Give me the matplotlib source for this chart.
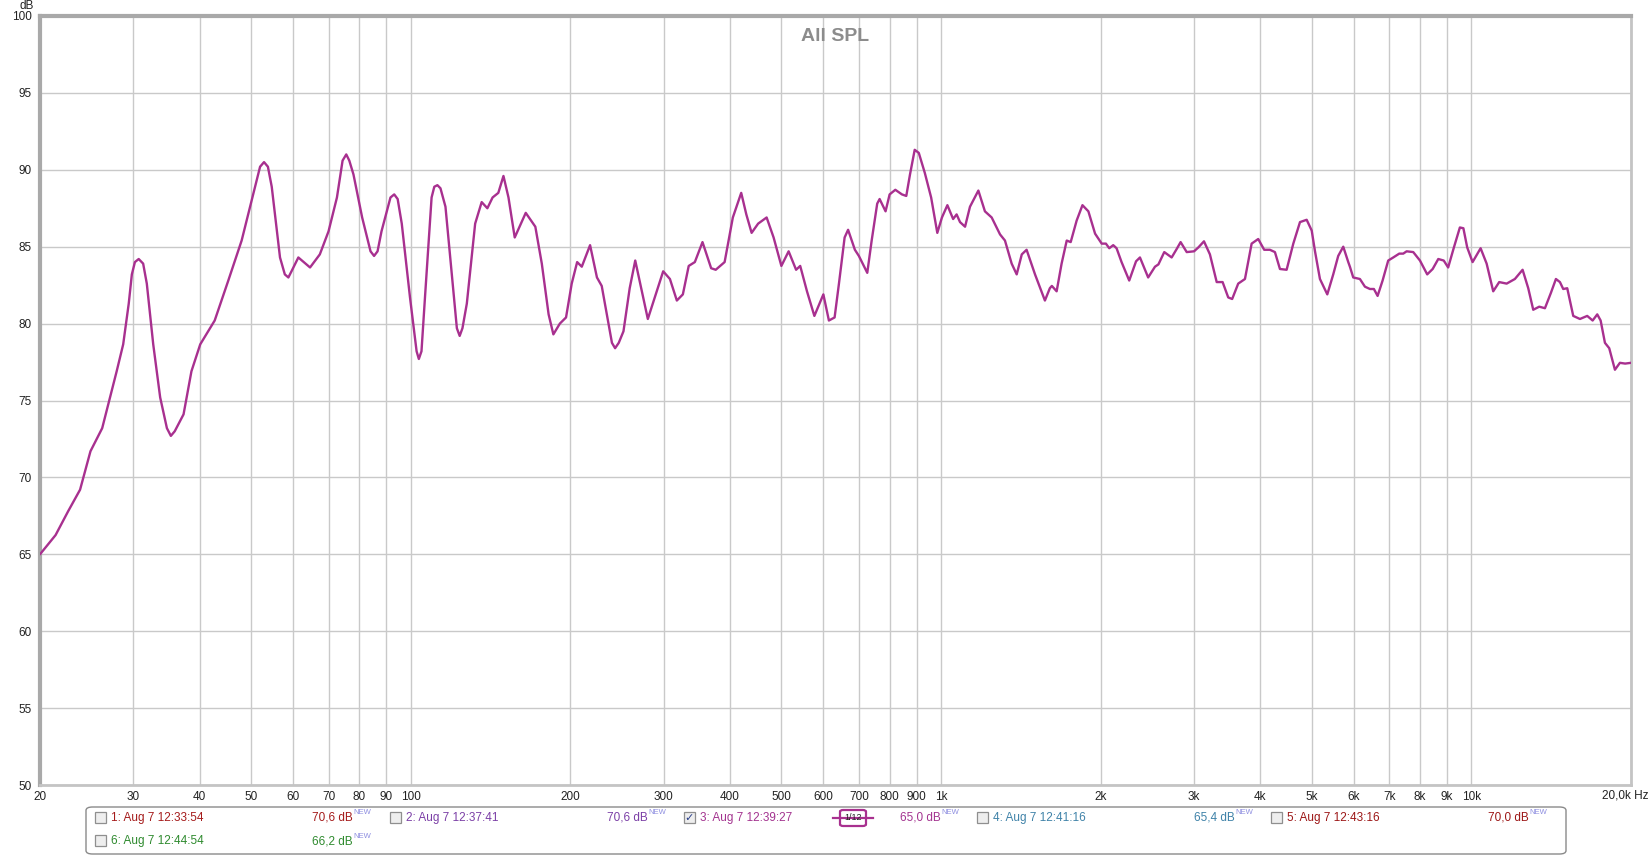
import matplotlib.pyplot as plt
from matplotlib.patches import FancyBboxPatch, Rectangle
from matplotlib.ticker import FixedLocator, NullLocator


# values
freq_hz = [
    20, 21.4, 22.6, 23.8, 24.9, 26.2, 27.9, 28.7, 29.4, 29.8, 30.2, 30.7,
    31.3, 31.8, 32.7, 33.7, 34.7, 35.3, 35.9, 37.3, 38.6, 40.1, 42.7, 45.3,
    48.0, 50.9, 52.0, 52.9, 53.8, 54.7, 56.7, 57.9, 58.8, 59.6, 61.4, 64.6,
    67.4, 70.0, 72.6, 74.4, 75.6, 76.6, 78.0, 81.0, 84.0, 85.3, 86.6, 88.1,
    91.6, 93.1, 94.5, 96.2, 99.7, 102.6, 103.6, 104.8, 106.4, 109.5, 110.8,
    112.3, 113.8, 116.3, 120.4, 122.2, 123.7, 125.2, 127.6,
    132.3, 136.1, 139.5, 142.7, 146.3, 149.6, 152.9, 157.1, 164.8, 171.8,
    176.7, 182, 185.8, 191.1, 196.3, 201.2, 206, 210.2, 217.9, 224.5, 229.2,
    236, 239.6, 242.9, 246.8, 251.9, 258.8, 265.1, 272, 280, 288.6, 299.3,
    308.2, 317.6,
    326, 334.4, 343.4, 355, 368.6, 376, 390.8, 405, 420, 429.4, 439.4, 452,
    469, 483.4, 500, 516, 533, 542.6, 558.8, 577, 600, 614.6, 630, 642, 658,
    668, 688, 700, 726, 740, 758, 766, 786, 800, 820, 844, 860, 874, 892,
    908, 932, 958, 984, 1004, 1028, 1054, 1070, 1086, 1110, 1134, 1176,
    1210, 1246, 1292, 1320, 1359, 1389, 1420, 1450, 1504, 1570, 1604, 1618,
    1652, 1688, 1726, 1756, 1802, 1848, 1896, 1952, 2009, 2046, 2076, 2112,
    2143, 2190, 2264, 2332, 2372, 2458, 2532, 2570, 2636, 2722, 2782, 2830,
    2906, 3000, 3056, 3132, 3214, 3310, 3396, 3480, 3540, 3634, 3742, 3852,
    3964, 4068, 4170, 4262, 4356, 4484, 4616, 4752, 4892, 5000, 5072, 5182,
    5350, 5490, 5610, 5734, 5860, 5902, 5988, 6164, 6300, 6438, 6550, 6656,
    6802, 6970, 7124, 7312, 7440, 7550, 7770, 8000, 8256, 8454, 8662, 8870,
    9042, 9270, 9514, 9660, 9822, 10054, 10410, 10686, 10996, 11286, 11656,
    12080, 12492, 12802, 13082, 13428, 13764, 14126, 14436, 14690, 14902,
    15164, 15564, 16024, 16538, 16932, 17274, 17530, 17860, 18196, 18652,
    19060, 19500, 20000,
]
spl_db = [
    65.0, 66.25, 67.8, 69.2, 71.7, 73.2, 76.9, 78.65, 81.3, 83.2, 84.0, 84.2,
    83.9, 82.6, 78.65, 75.2, 73.2, 72.7, 73.0, 74.1, 76.9, 78.65, 80.2, 82.8,
    85.4, 88.9, 90.2, 90.5, 90.2, 88.9, 84.3, 83.2, 83.0, 83.4, 84.3, 83.65,
    84.5, 86.0, 88.2, 90.6, 91.0, 90.6, 89.7, 86.9, 84.7, 84.4, 84.7, 86.0,
    88.2, 88.4, 88.1, 86.5, 81.7, 78.2, 77.7, 78.2, 81.7, 88.2, 88.9,
    89.0, 88.8, 87.6, 82.1, 79.7, 79.2, 79.7, 81.3,
    86.5, 87.9, 87.5, 88.2, 88.5, 89.6, 88.2, 85.6, 87.2, 86.3,
    83.9, 80.6, 79.3, 80.0, 80.4, 82.6, 84.0, 83.7, 85.1, 83.0, 82.45,
    80.0, 78.75, 78.4, 78.75, 79.5, 82.3, 84.1, 82.3, 80.3, 81.7, 83.4,
    82.9, 81.5,
    81.9, 83.75, 84.0, 85.3, 83.6, 83.5, 84.0, 86.9, 88.5, 87.1, 85.9, 86.5,
    86.9, 85.6, 83.75, 84.7, 83.5, 83.75, 82.1, 80.5, 81.9, 80.2, 80.4, 82.6, 85.6,
    86.1, 84.8, 84.4, 83.3, 85.4, 87.8, 88.1, 87.3, 88.4, 88.7, 88.4, 88.3, 89.7, 91.3,
    91.1, 89.8, 88.2, 85.9, 86.9, 87.7, 86.8, 87.1, 86.6, 86.3, 87.6, 88.65,
    87.3, 86.9, 85.8, 85.4, 83.9, 83.2, 84.5, 84.8, 83.2, 81.5, 82.3, 82.45,
    82.1, 83.9, 85.4, 85.3, 86.7, 87.7, 87.3, 85.85, 85.2, 85.2, 84.9, 85.1,
    84.9, 84.0, 82.8, 84.05, 84.3, 83.0, 83.7, 83.85, 84.65, 84.3, 84.85, 85.3,
    84.65, 84.7, 84.95, 85.35, 84.5, 82.7, 82.7, 81.7, 81.6, 82.6, 82.9, 85.2,
    85.5, 84.8, 84.8, 84.65, 83.55, 83.5, 85.2, 86.6, 86.75, 86.05, 84.7, 82.9,
    81.9, 83.2, 84.4, 85.0, 84.0, 83.7, 83.0, 82.9, 82.4, 82.25, 82.25, 81.8,
    82.8, 84.1, 84.3, 84.55, 84.55, 84.7, 84.65, 84.1, 83.2, 83.55, 84.2, 84.1,
    83.65, 84.95, 86.25, 86.2, 84.95, 84.0, 84.9, 83.9, 82.1, 82.7, 82.6,
    82.9, 83.5, 82.3, 80.9, 81.1, 81.0, 82.0, 82.9, 82.7, 82.25,
    82.3, 80.5, 80.3, 80.5, 80.2, 80.6, 80.2, 78.75, 78.4, 77.0,
    77.45, 77.4, 77.45,
]

x_ticks = [20, 30, 40, 50, 60, 70, 80, 90, 100, 200, 300, 400, 500, 600,
           700, 800, 900, 1000, 2000, 3000, 4000, 5000, 6000, 7000, 8000,
           9000, 10000, 20000]
x_tick_labels = ["20", "30", "40", "50", "60", "70", "80", "90", "100", "200",
                 "300", "400", "500", "600", "700", "800", "900", "1k", "2k",
                 "3k", "4k", "5k", "6k", "7k", "8k", "9k", "10k", ""]
x_end_label = "20,0k Hz"
y_ticks = [50, 55, 60, 65, 70, 75, 80, 85, 90, 95, 100]

legend_names = ["1: Aug 7 12:33:54", "2: Aug 7 12:37:41", "3: Aug 7 12:39:27",
                "4: Aug 7 12:41:16", "5: Aug 7 12:43:16", "6: Aug 7 12:44:54"]
legend_levels = ["70,6 dB", "70,6 dB", "65,0 dB", "65,4 dB", "70,0 dB", "66,2 dB"]
legend_colors = ["#a51b1b", "#7b3fa6", "#a3338f", "#3f82a8", "#9c1616", "#2e8a2e"]
legend_checked = [False, False, True, False, False, False]

LINE_COLOR = "#a8308f"
FONT = ["Liberation Sans Narrow", "Liberation Sans", "DejaVu Sans"]


def main():
    plt.rcParams["font.family"] = FONT
    W, H = 1650, 856
    fig = plt.figure(figsize=(W / 100, H / 100), dpi=100)
    fig.patch.set_facecolor("white")

    left, right, top, bottom = 40, 1631, 16, 785
    ax = fig.add_axes([left / W, 1 - bottom / H, (right - left) / W,
                       (bottom - top) / H])
    ax.set_xscale("log")
    ax.set_xlim(20, 20000)
    ax.set_ylim(50, 100)

    ax.xaxis.set_major_locator(FixedLocator(x_ticks))
    ax.xaxis.set_minor_locator(NullLocator())
    ax.set_xticklabels(x_tick_labels)
    ax.set_yticks(y_ticks)
    ax.set_yticklabels([str(v) for v in y_ticks])
    ax.tick_params(axis="both", length=0, labelsize=8.5, colors="#222222")
    ax.tick_params(axis="x", pad=4)
    ax.tick_params(axis="y", pad=6)

    ax.grid(True, which="major", color="#c9c9c9", linewidth=1.0)
    ax.set_axisbelow(True)

    for side in ["left", "top"]:
        ax.spines[side].set_color("#a9a9a9")
        ax.spines[side].set_linewidth(3.0)
    for side in ["right", "bottom"]:
        ax.spines[side].set_color("#c4c4c4")
        ax.spines[side].set_linewidth(2.0)

    ax.plot(freq_hz, spl_db, color=LINE_COLOR, linewidth=1.7,
            solid_joinstyle="round", solid_capstyle="round", zorder=3)

    ax.text(0.5, 0.985, "All SPL", transform=ax.transAxes, ha="center",
            va="top", fontsize=14, fontweight="bold", color="#8c8c8c",
            family=["Liberation Sans", "DejaVu Sans"])

    fig.text(27 / W, 1 - 6 / H, "dB", ha="center", va="center", fontsize=8.5,
             color="#222222")
    fig.text(1649 / W, 1 - 796 / H, x_end_label, ha="right", va="center",
             fontsize=8.5, color="#222222")

    # legend panel under the plot
    box = FancyBboxPatch((86 / W, 1 - 854 / H), (1566 - 86) / W, 47 / H,
                         boxstyle="round,pad=0,rounding_size=0.004",
                         transform=fig.transFigure, facecolor="white",
                         edgecolor="#8a8a8a", linewidth=1.0)
    fig.patches.append(box)

    col_x = [100, 395, 689, 982, 1276, 100]
    row_y = [818, 818, 818, 818, 818, 841]
    level_x = [312, 607, 900, 1194, 1488, 312]

    for i, name in enumerate(legend_names):
        cx, cy = col_x[i], row_y[i]
        cb = Rectangle(((cx - 5) / W, 1 - (cy + 5) / H), 11 / W, 11 / H,
                       transform=fig.transFigure, facecolor="#eeeeee",
                       edgecolor="#8f8f8f", linewidth=0.9)
        fig.patches.append(cb)
        if legend_checked[i]:
            fig.text((cx + 0.5) / W, 1 - cy / H, "\u2713", ha="center",
                     va="center", fontsize=8, color="#2a3f8a",
                     family=["DejaVu Sans"])
        fig.text((cx + 11) / W, 1 - cy / H, name, ha="left", va="center",
                 fontsize=8.5, color=legend_colors[i])
        fig.text(level_x[i] / W, 1 - cy / H, legend_levels[i], ha="left",
                 va="center", fontsize=8.5, color=legend_colors[i])
        fig.text((level_x[i] + 41) / W, 1 - (cy - 5) / H, "NEW", ha="left",
                 va="center", fontsize=5.5, color="#8c8ce0")

    # smoothing marker next to entry 3
    sx, sy = 853, 818
    fig.add_artist(plt.Line2D([(sx - 20) / W, (sx + 20) / W],
                              [1 - sy / H, 1 - sy / H],
                              transform=fig.transFigure, color=LINE_COLOR,
                              linewidth=1.6))
    icon = FancyBboxPatch(((sx - 13) / W, 1 - (sy + 8) / H), 26 / W, 16 / H,
                          boxstyle="round,pad=0,rounding_size=0.002",
                          transform=fig.transFigure, facecolor="white",
                          edgecolor=LINE_COLOR, linewidth=1.6)
    fig.patches.append(icon)
    fig.text(sx / W, 1 - sy / H, "1/12", ha="center", va="center",
             fontsize=6.5, color="#222222")

    fig.savefig("out.png", dpi=100, facecolor="white")
    plt.close(fig)


if __name__ == "__main__":
    main()
